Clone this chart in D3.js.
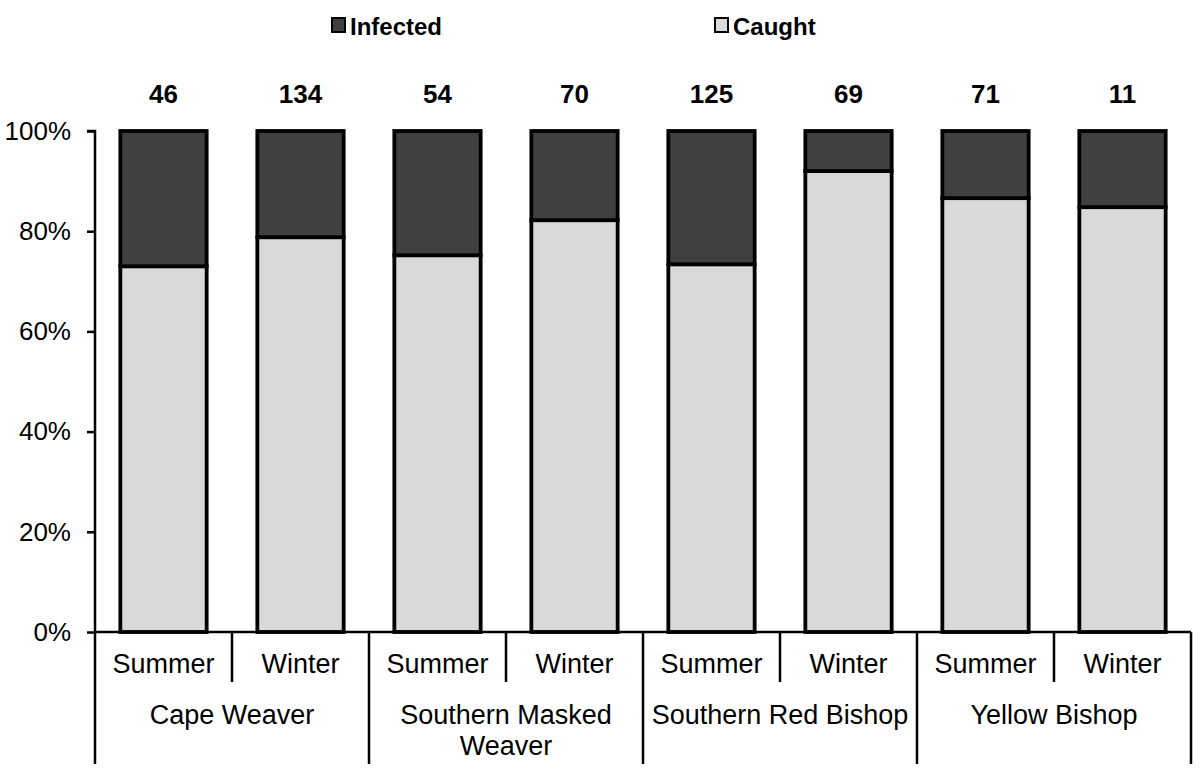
<!DOCTYPE html>
<html>
<head>
<meta charset="utf-8">
<script src="https://cdn.jsdelivr.net/npm/d3@7"></script>
<style>
  body { margin: 0; background: #fff; }
  text { font-family: "Liberation Sans", Arial, Helvetica, sans-serif; fill: #000; }
</style>
</head>
<body>
<div id="plot"></div>
<script>
// data
const species = ["Cape Weaver", "Southern Masked Weaver", "Southern Red Bishop", "Yellow Bishop"];
const seasons = ["Summer", "Winter"];
const totals = [46, 134, 54, 70, 125, 69, 71, 11];
const caughtPct = [73, 78.8, 75.2, 82.2, 73.4, 92, 86.6, 84.8];
const infectedPct = [27, 21.2, 24.8, 17.8, 26.6, 8, 13.4, 15.2];
const yTicks = [0, 20, 40, 60, 80, 100];

const w = 1200, h = 768;
const margin = {top: 131, right: 9, bottom: 136, left: 95};
const innerwidth = w - margin.left - margin.right;
const innerheight = h - margin.top - margin.bottom;

const bars = [];
species.forEach((sp, i) => seasons.forEach((se, j) => {
  const k = i * seasons.length + j;
  bars.push({key: sp + "|" + se, species: sp, season: se, total: totals[k],
             caught: caughtPct[k], infected: infectedPct[k]});
}));

const svg = d3.select("#plot").append("svg")
  .attr("width", w).attr("height", h);

const x = d3.scaleBand()
  .domain(bars.map(d => d.key))
  .range([0, innerwidth])
  .paddingInner(0.37)
  .paddingOuter(0.185);

const y = d3.scaleLinear().domain([0, 100]).range([innerheight, 0]);

const g = svg.append("g").attr("transform", `translate(${margin.left},${margin.top})`);

// bars: caught at the bottom, infected on top
const bg = g.selectAll("g.bar").data(bars).enter().append("g").attr("class", "bar");
bg.append("rect")
  .attr("x", d => x(d.key))
  .attr("width", x.bandwidth())
  .attr("y", d => y(d.caught))
  .attr("height", d => innerheight - y(d.caught))
  .attr("fill", "#d9d9d9")
  .attr("stroke", "#000")
  .attr("stroke-width", 3.8);
bg.append("rect")
  .attr("x", d => x(d.key))
  .attr("width", x.bandwidth())
  .attr("y", d => y(d.caught + d.infected))
  .attr("height", d => y(d.caught) - y(d.caught + d.infected))
  .attr("fill", "#404040")
  .attr("stroke", "#000")
  .attr("stroke-width", 3.8);

// totals above bars
g.selectAll("text.total").data(bars).enter().append("text")
  .attr("class", "total")
  .attr("x", d => x(d.key) + x.bandwidth() / 2)
  .attr("y", -28)
  .attr("text-anchor", "middle")
  .style("font-size", "26px")
  .style("font-weight", "bold")
  .text(d => d.total);

// y axis
const yAxis = d3.axisLeft(y)
  .tickValues(yTicks)
  .tickFormat(d => d + "%")
  .tickSize(8)
  .tickPadding(16);
const ya = g.append("g").call(yAxis);
ya.select(".domain").attr("stroke", "#000").attr("stroke-width", 2.5).attr("d", `M-8,0H0V${innerheight}`);
ya.selectAll(".tick line").attr("stroke", "#000").attr("stroke-width", 2.5);
ya.selectAll(".tick text").style("font-size", "26px").attr("fill", "#000")
  .style("font-family", "'Liberation Sans', Arial, sans-serif");

// x axis line
g.append("line")
  .attr("x1", 0).attr("x2", innerwidth)
  .attr("y1", innerheight).attr("y2", innerheight)
  .attr("stroke", "#000").attr("stroke-width", 2.5);

// category axis: separators and labels
const groupW = innerwidth / species.length;
const sepLong = 132, sepShort = 50;
g.selectAll("line.gsep").data(d3.range(species.length + 1)).enter().append("line")
  .attr("x1", i => i * groupW).attr("x2", i => i * groupW)
  .attr("y1", innerheight).attr("y2", innerheight + sepLong)
  .attr("stroke", "#000").attr("stroke-width", 2.5);
g.selectAll("line.ssep").data(species).enter().append("line")
  .attr("x1", (d, i) => i * groupW + groupW / 2).attr("x2", (d, i) => i * groupW + groupW / 2)
  .attr("y1", innerheight).attr("y2", innerheight + sepShort)
  .attr("stroke", "#000").attr("stroke-width", 2.5);

g.selectAll("text.season").data(bars).enter().append("text")
  .attr("x", d => x(d.key) + x.bandwidth() / 2)
  .attr("y", innerheight + 41)
  .attr("text-anchor", "middle")
  .style("font-size", "27px")
  .text(d => d.season);

const spLines = {"Southern Masked Weaver": ["Southern Masked", "Weaver"]};
species.forEach((sp, i) => {
  const lines = spLines[sp] || [sp];
  const t = g.append("text")
    .attr("x", i * groupW + groupW / 2)
    .attr("y", innerheight + 92)
    .attr("text-anchor", "middle")
    .style("font-size", "27px");
  lines.forEach((l, k) => {
    t.append("tspan")
      .attr("x", i * groupW + groupW / 2)
      .attr("dy", k === 0 ? 0 : 31)
      .text(l);
  });
});

// legend
const legend = [
  {name: "Infected", fill: "#404040", x: 332},
  {name: "Caught", fill: "#d9d9d9", x: 715}
];
const lg = svg.selectAll("g.legend").data(legend).enter().append("g")
  .attr("transform", d => `translate(${d.x},18)`);
lg.append("rect")
  .attr("width", 13).attr("height", 14)
  .attr("fill", d => d.fill)
  .attr("stroke", "#000").attr("stroke-width", 2);
lg.append("text")
  .attr("x", 18).attr("y", 17)
  .style("font-size", "24px")
  .style("font-weight", "bold")
  .text(d => d.name);
</script>
</body>
</html>
